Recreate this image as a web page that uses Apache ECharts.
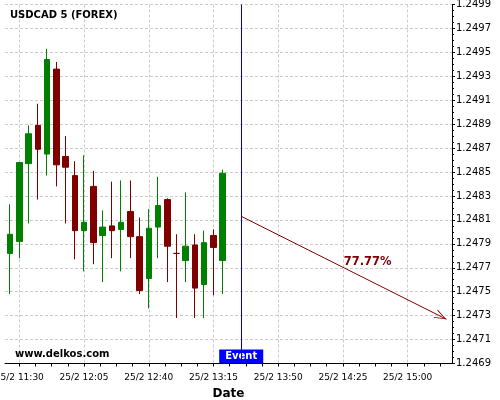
<!DOCTYPE html>
<html><head><meta charset="utf-8">
<script src="https://cdn.jsdelivr.net/npm/echarts@6/dist/echarts.min.js"></script>
<style>html,body{margin:0;padding:0;background:#fff}#c{width:500px;height:400px}</style>
</head><body><div id="c"></div>
<script>
// ---- data ----
const chartTitle = 'USDCAD 5 (FOREX)';
const watermark = 'www.delkos.com';
const datePrefix = '25/2';
const times = ['11:25','11:30','11:35','11:40','11:45','11:50','11:55','12:00','12:05','12:10','12:15','12:20',
               '12:25','12:30','12:35','12:40','12:45','12:50','12:55','13:00','13:05','13:10','13:15','13:20'];
const openV  = [1.24782,1.24792,1.24857,1.24889,1.24865,1.24936,1.24863,1.24847,1.24801,1.24838,1.24797,1.24805,
                1.24802,1.24817,1.24796,1.24761,1.24804,1.24827,1.24782,1.24776,1.24789,1.24756,1.24797,1.24776];
const closeV = [1.24798,1.24858,1.24882,1.24869,1.24944,1.24856,1.24854,1.24801,1.24808,1.24791,1.24804,1.24801,
                1.24808,1.24796,1.24751,1.24803,1.24822,1.24788,1.24782,1.24788,1.24753,1.24791,1.24787,1.24849];
const lowV   = [1.24748,1.24778,1.24807,1.24827,1.24847,1.24838,1.24807,1.24777,1.24767,1.24773,1.24758,1.24778,
                1.24767,1.24778,1.24748,1.24736,1.24778,1.24758,1.24728,1.24758,1.24728,1.24728,1.24747,1.24748];
const highV  = [1.24823,1.24858,1.24889,1.24907,1.24953,1.24942,1.24880,1.24859,1.24864,1.24851,1.24818,1.24842,
                1.24843,1.24843,1.24812,1.24819,1.24846,1.24828,1.24798,1.24833,1.24798,1.24801,1.24802,1.24852];
const xTickLabels = ['11:30','12:05','12:40','13:15','13:50','14:25','15:00'];
const xRange = ['11:22.25','15:24'];
const yMin = 1.2469, yMax = 1.2499, yStep = 0.0002;
const eventTime = '13:30';
const eventText = 'Event';
const forecastFrom = ['13:30', 1.24813];
const forecastTo   = ['15:21', 1.24727];
const forecastText = '77.77%';
const forecastTextAt = ['14:38.4', 1.24775];

// ---- helpers ----
function toMin(s){ const p = s.split(':'); return Number(p[0])*60 + Number(p[1]); }
function fmtMin(v){ const h = Math.floor(v/60), m = Math.round(v - h*60); return h + ':' + (m<10?'0':'') + m; }
const FONT = 'DejaVu Sans';
const majorX = xTickLabels.map(toMin);
const stepX = majorX[1]-majorX[0];
const minorX = [];
for (let i=0;i<majorX.length;i++){ for(let k=0;k<4;k++){ const v = majorX[i] + k*stepX/4; if (v <= toMin(xRange[1])) minorX.push(v);} }
const candles = times.map((t,i)=>[toMin(t), openV[i], closeV[i], lowV[i], highV[i]]);
const gridLine = {show:true, lineStyle:{color:'#cccccc', width:1, type:[3,2]}};
const EVENT_BLUE = '#0000cc', MAROON = '#800000';
// open chevron whose tip sits at the symbol centre
const ARROW = 'path://M5,10 L10,20 L9,20 L5,11.6 L1,20 L0,20 Z M5,0 L5.01,0 L5,0.01 Z';

const chart = echarts.init(document.getElementById('c'), null, {renderer:'canvas'});
chart.setOption({
  animation:false,
  backgroundColor:'#fff',
  title:[
    {text:chartTitle, left:10, top:10, padding:0, textStyle:{fontFamily:FONT, fontSize:10, fontWeight:'bold', color:'#000'}},
    {text:watermark, left:15, top:349, padding:0, textStyle:{fontFamily:FONT, fontSize:10, fontWeight:'bold', color:'#000'}}
  ],
  grid:{left:5, right:48, top:4.5, bottom:36.5, containLabel:false, outerBoundsMode:'none'},
  xAxis:[{
    type:'value', min:toMin(xRange[0]), max:toMin(xRange[1]),
    axisLine:{show:true, onZero:false, lineStyle:{color:'#000', width:1}},
    axisTick:{show:true, customValues:minorX, length:3, lineStyle:{color:'#000'}},
    axisLabel:{show:true, customValues:majorX, margin:10, fontFamily:FONT, fontSize:9, color:'#000',
      formatter:v=>datePrefix+' '+fmtMin(v)},
    splitLine:{show:false},
    name:'Date', nameLocation:'middle', nameGap:22,
    nameTextStyle:{fontFamily:FONT, fontSize:12, fontWeight:'bold', color:'#000'}
  },{
    type:'value', min:toMin(xRange[0]), max:toMin(xRange[1]), position:'bottom',
    axisLine:{show:false}, axisTick:{show:false, customValues:majorX}, axisLabel:{show:false, customValues:majorX},
    splitLine:gridLine
  }],
  yAxis:{
    type:'value', position:'right', min:yMin, max:yMax, interval:yStep, scale:true,
    axisLine:{show:true, onZero:false, lineStyle:{color:'#000', width:1}},
    axisTick:{show:true, length:3, lineStyle:{color:'#000'}},
    minorTick:{show:true, splitNumber:4, length:2, lineStyle:{color:'#000'}},
    axisLabel:{margin:4, fontFamily:FONT, fontSize:10, color:'#000', formatter:v=>v.toFixed(4)},
    splitLine:gridLine
  },
  series:[{
    type:'candlestick', xAxisIndex:0, yAxisIndex:0,
    encode:{x:0, y:[1,2,3,4]},
    data:candles, barWidth:6,
    itemStyle:{color:'#008000', color0:MAROON, borderColor:'#008000', borderColor0:MAROON, borderColorDoji:MAROON, borderWidth:1}
  },{
    type:'scatter', xAxisIndex:0, yAxisIndex:0, symbolSize:0, silent:true, z:3,
    itemStyle:{opacity:1, color:EVENT_BLUE},
    data:[[toMin(eventTime), yMin]],
    label:{show:true, position:'top', distance:0, formatter:eventText, backgroundColor:'#0000ff', color:'#fff',
      fontFamily:FONT, fontWeight:'bold', fontSize:10, lineHeight:10, padding:[2,6,2,6]},
    markLine:{
      silent:true, animation:false, symbol:'none', precision:6,
      lineStyle:{color:EVENT_BLUE, width:1, type:'solid', opacity:1},
      label:{show:false}, emphasis:{disabled:true},
      data:[{xAxis:toMin(eventTime)}]
    }
  },{
    type:'scatter', xAxisIndex:0, yAxisIndex:0, symbolSize:0, silent:true,
    itemStyle:{opacity:1, color:MAROON},
    data:[[toMin(forecastTextAt[0]), forecastTextAt[1]]],
    label:{show:true, position:'inside', formatter:forecastText, color:MAROON,
      fontFamily:FONT, fontWeight:'bold', fontSize:11.5},
    markLine:{
      silent:true, animation:false, precision:6,
      symbol:['none', ARROW], symbolSize:[9,24],
      lineStyle:{color:MAROON, width:1, type:'solid', opacity:1},
      itemStyle:{color:MAROON},
      label:{show:false}, emphasis:{disabled:true},
      data:[[{coord:[toMin(forecastFrom[0]), forecastFrom[1]]},{coord:[toMin(forecastTo[0]), forecastTo[1]]}]]
    }
  }]
});
</script></body></html>
